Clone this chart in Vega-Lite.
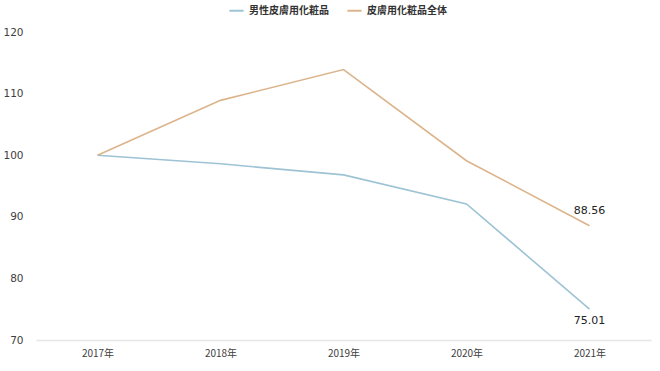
{
  "$schema": "https://vega.github.io/schema/vega-lite/v6.json",
  "width": 615,
  "height": 308,
  "autosize": "none",
  "padding": {"left": 36, "top": 32, "right": 9, "bottom": 31},
  "background": "white",
  "data": {
    "values": [
      {"year": "2017年", "series": "男性皮膚用化粧品", "value": 100},
      {"year": "2018年", "series": "男性皮膚用化粧品", "value": 98.6},
      {"year": "2019年", "series": "男性皮膚用化粧品", "value": 96.8},
      {"year": "2020年", "series": "男性皮膚用化粧品", "value": 92.1},
      {"year": "2021年", "series": "男性皮膚用化粧品", "value": 75.01},
      {"year": "2017年", "series": "皮膚用化粧品全体", "value": 100},
      {"year": "2018年", "series": "皮膚用化粧品全体", "value": 108.9},
      {"year": "2019年", "series": "皮膚用化粧品全体", "value": 113.9},
      {"year": "2020年", "series": "皮膚用化粧品全体", "value": 99.1},
      {"year": "2021年", "series": "皮膚用化粧品全体", "value": 88.56}
    ]
  },
  "config": {
    "view": {"stroke": null},
    "font": "Noto Sans CJK JP"
  },
  "encoding": {
    "x": {
      "field": "year", "type": "ordinal",
      "scale": {"paddingOuter": 0.5, "paddingInner": 0},
      "axis": {
        "title": null, "labelAngle": 0, "ticks": false, "domainColor": "#e6e6e6",
        "domainWidth": 1.5, "labelFontSize": 10, "labelColor": "#404040", "labelPadding": 8, "grid": false
      }
    },
    "y": {
      "field": "value", "type": "quantitative",
      "scale": {"domain": [70, 120], "nice": false, "zero": false},
      "axis": {
        "title": null, "values": [70, 80, 90, 100, 110, 120], "domain": false, "ticks": false, "grid": false,
        "labelFontSize": 10.5, "labelColor": "#404040", "labelPadding": 13, "labelFont": "DejaVu Sans"
      }
    },
    "color": {
      "field": "series", "type": "nominal",
      "scale": {"domain": ["男性皮膚用化粧品", "皮膚用化粧品全体"], "range": ["#9dc3d4", "#dcb48c"]},
      "legend": {
        "title": null, "orient": "none", "legendX": 192, "legendY": -30, "direction": "horizontal",
        "symbolType": "stroke", "symbolSize": 200, "symbolStrokeWidth": 2,
        "labelFontSize": 10, "labelFontWeight": "bold", "labelColor": "#333333", "columnPadding": 14
      }
    }
  },
  "layer": [
    {"mark": {"type": "line", "strokeWidth": 1.6}},
    {
      "transform": [{"filter": "datum.year == '2021年' && datum.series == '皮膚用化粧品全体'"}],
      "mark": {"type": "text", "fontSize": 11, "font": "DejaVu Sans", "color": "#222222", "dy": -15},
      "encoding": {
        "text": {"field": "value", "type": "quantitative", "format": ".2f"},
        "color": {"value": "#222222"}
      }
    },
    {
      "transform": [{"filter": "datum.year == '2021年' && datum.series == '男性皮膚用化粧品'"}],
      "mark": {"type": "text", "fontSize": 11, "font": "DejaVu Sans", "color": "#222222", "dy": 12},
      "encoding": {
        "text": {"field": "value", "type": "quantitative", "format": ".2f"},
        "color": {"value": "#222222"}
      }
    }
  ]
}
